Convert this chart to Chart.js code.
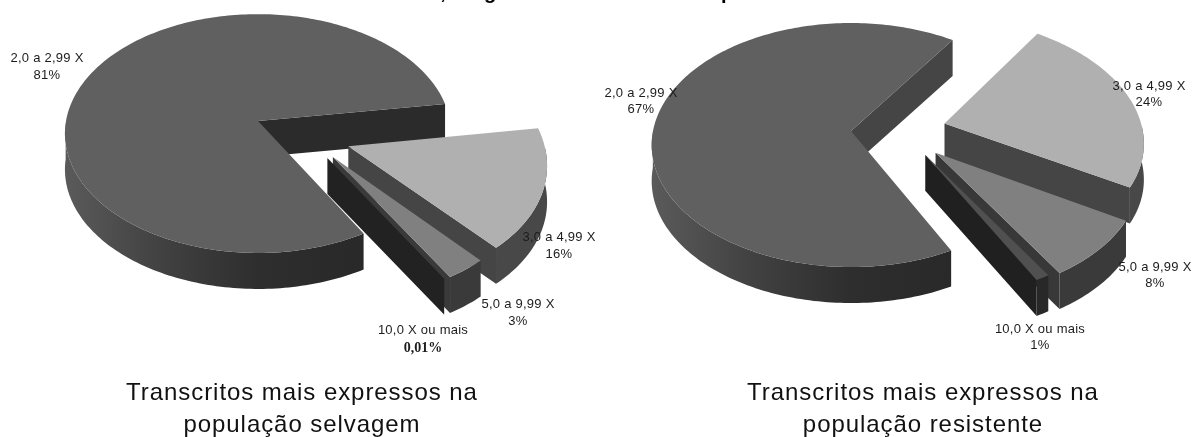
<!DOCTYPE html>
<html>
<head>
<meta charset="utf-8">
<script src="https://cdn.jsdelivr.net/npm/chart.js@4"></script>
<style>
  html, body { margin: 0; padding: 0; background: #fff; overflow: hidden; }
  canvas { position: absolute; top: 0; }
  #wild { left: 0; }
  #resistant { left: 598px; }
</style>
</head>
<body>
<canvas id="wild" width="598" height="437"></canvas>
<canvas id="resistant" width="598" height="437"></canvas>
<script>
// Fold-change classes shown in both pies
const categories = ['2,0 a 2,99 X', '3,0 a 4,99 X', '5,0 a 9,99 X', '10,0 X ou mais'];
// Share of transcripts per class (%)
const wildValues = [81, 16, 3, 0.01];
const resistantValues = [67, 24, 8, 1];
const wildCaption = ['Transcritos mais expressos na', 'população selvagem'];
const resistantCaption = ['Transcritos mais expressos na', 'população resistente'];

// Fill colours per class
const topColors = ['#606060', '#b0b0b0', '#808080', '#505050'];
const mainRim = ['#5a5a5a', '#414141', '#2e2e2e', '#292929', '#2b2b2b'];

const pie3d = {
  id: 'pie3d',
  beforeDatasetDraw(chart, args, o) {
    const ctx = chart.ctx;
    const meta = chart.getDatasetMeta(0);
    const R = meta.data[0].outerRadius;
    // Tilted view of the flat disc, nearer points drawn larger
    const project = (u, v, z) => {
      const s = 1 / (1 - o.perspective * v / R);
      return [o.cx + u * s, o.cy + v * o.tilt * s + z];
    };
    const poly = (pts, fill) => {
      ctx.beginPath();
      pts.forEach((p, i) => i ? ctx.lineTo(p[0], p[1]) : ctx.moveTo(p[0], p[1]));
      ctx.closePath();
      ctx.fillStyle = fill;
      ctx.fill();
    };
    meta.data.forEach((arc, i) => {
      const a0 = arc.startAngle, a1 = arc.endAngle;
      const mid = (a0 + a1) / 2 + (o.turn[i] * Math.PI / 180);
      const off = arc.options.offset;
      const ou = Math.cos(mid) * off, ov = Math.sin(mid) * off;
      const n = Math.max(2, Math.ceil((a1 - a0) / 0.02));
      const angles = [];
      for (let k = 0; k <= n; k++) angles.push(a0 + (a1 - a0) * k / n);
      const at = (a, z) => project(ou + R * Math.cos(a), ov + R * Math.sin(a), z);
      const top = angles.map(a => at(a, 0));
      const apexT = project(ou, ov, 0), apexL = project(ou, ov, o.depth);

      // Only the walls that face the viewer are painted, the top face goes last
      if (Math.cos(a0) < 0) poly([apexT, at(a0, 0), at(a0, o.depth), apexL], o.wall[i]);
      if (Math.cos(a1) > 0) poly([apexT, at(a1, 0), at(a1, o.depth), apexL], o.wall[i]);
      const front = angles.filter(a => Math.sin(a) >= 0);
      if (front.length > 1) {
        let rim = o.rim[i];
        if (Array.isArray(rim)) {
          const g = ctx.createLinearGradient(o.cx - R, 0, o.cx + R, 0);
          rim.forEach((c, k) => g.addColorStop(k / (rim.length - 1), c));
          rim = g;
        }
        poly(front.map(a => at(a, 0)).concat(front.slice().reverse().map(a => at(a, o.depth))), rim);
      }
      poly([apexT].concat(top), arc.options.backgroundColor);
    });
    return false;
  },
  afterDraw(chart, args, o) {
    const ctx = chart.ctx;
    const values = chart.data.datasets[0].data;
    ctx.save();
    ctx.textAlign = 'center';
    ctx.textBaseline = 'middle';
    ctx.fillStyle = '#1c1c1c';

    // Class name and share beside each slice
    chart.data.labels.forEach((name, i) => {
      const [x, y, gap] = o.labels[i];
      ctx.font = '13px "Liberation Sans"';
      ctx.letterSpacing = '0.25px';
      ctx.fillText(name, x, y);
      const small = values[i] < 0.1;
      ctx.font = small ? 'bold 14px "Liberation Serif"' : '13px "Liberation Sans"';
      ctx.letterSpacing = small ? '0px' : '0.25px';
      ctx.fillText(String(values[i]).replace('.', ',') + '%', x, y + gap);
    });

    // Two-line caption under the pie
    ctx.font = '24px "Liberation Sans"';
    ctx.letterSpacing = '0.94px';
    ctx.fillStyle = '#111';
    o.caption.forEach((line, i) => ctx.fillText(line, o.captionX, 393 + i * 32));

    // Descenders of the heading that runs off the top edge
    ctx.font = 'bold 20px "Liberation Sans"';
    ctx.letterSpacing = '0px';
    ctx.fillStyle = '#000';
    ctx.textBaseline = 'alphabetic';
    o.heading.forEach(([t, x]) => ctx.fillText(t, x, -1));
    ctx.restore();
  }
};

function makePie(id, values, rotation, settings) {
  return new Chart(document.getElementById(id), {
    type: 'pie',
    plugins: [pie3d],
    data: {
      labels: categories,
      datasets: [{
        data: values,
        backgroundColor: topColors,
        borderWidth: 0,
        radius: settings.radius,
        offset: settings.offset
      }]
    },
    options: {
      responsive: false,
      animation: false,
      rotation,
      layout: { padding: 0 },
      plugins: {
        legend: { display: false },
        tooltip: { enabled: false },
        pie3d: settings
      }
    }
  });
}

makePie('wild', wildValues, 150, {
  cx: 258, cy: 121, radius: 192, depth: 36, tilt: 0.615, perspective: 0.105,
  offset: [0, 97, 92, 89],
  turn: [0, 4, -16.6, -19],
  wall: ['#2b2b2b', '#454545', '#3a3a3a', '#222222'],
  rim: [mainRim, '#484848', '#3a3a3a', '#222222'],
  labels: [[47, 58, 17], [559, 237, 17], [518, 304, 17], [423, 330, 18]],
  caption: wildCaption, captionX: 302,
  heading: [[',', 443], ['g', 490]]
});

makePie('resistant', resistantValues, 153, {
  cx: 253, cy: 131, radius: 198, depth: 36, tilt: 0.608, perspective: 0.115,
  offset: [0, 95, 90, 82],
  turn: [0, 5, -22, -33.5],
  wall: ['#454545', '#454545', '#383838', '#202020'],
  rim: [mainRim, '#484848', '#3a3a3a', '#282828'],
  labels: [[43, 93, 16], [551, 86, 16], [557, 267, 16], [442, 329, 16]],
  caption: resistantCaption, captionX: 325,
  heading: [['p', 129]]
});
</script>
</body>
</html>
